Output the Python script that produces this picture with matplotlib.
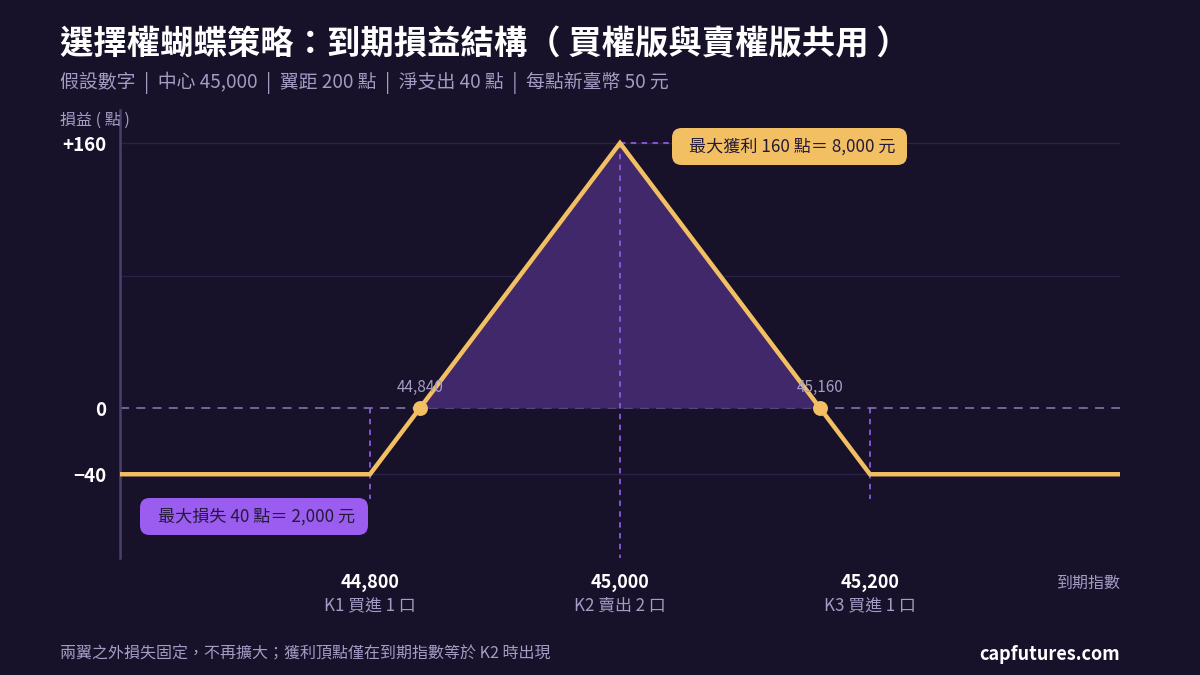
import matplotlib
matplotlib.use("Agg")
import matplotlib.pyplot as plt
from matplotlib.patches import FancyBboxPatch
import numpy as np

plt.rcParams['font.family'] = ['Noto Sans CJK TC', 'DejaVu Sans']

# ---- data ----
index_pts = [44600, 44800, 45000, 45200, 45400]   # expiry index
payoff = [-40, -40, 160, -40, -40]                # P/L in points
strikes = [44800, 45000, 45200]
strike_labels = ["44,800", "45,000", "45,200"]
strike_notes = ["K1 買進 1 口", "K2 賣出 2 口", "K3 買進 1 口"]
breakevens = [44840, 45160]
be_labels = ["44,840", "45,160"]
yticks = [160, 0, -40]
ytick_labels = ["+160", "0", "−40"]

BG = "#17112a"
GOLD = "#f2c062"
PURPLE = "#9b5cf0"
DASH = "#8a5ce0"
GRAY = "#a59cc4"

W, H = 1200, 675
def fx(px): return px / W
def fy(py): return 1 - py / H

fig = plt.figure(figsize=(12, 6.75), dpi=100, facecolor=BG)
ax = fig.add_axes([0.1, 0.1733, 0.8333, 0.6637])
ax.set_facecolor(BG)
ax.set_xlim(44600, 45400)
ax.set_ylim(-90.6, 180)

for s in ["top", "right", "bottom"]:
    ax.spines[s].set_visible(False)
ax.spines["left"].set_color("#4a3f6e")
ax.spines["left"].set_linewidth(1.8)

# grid
for g in [160, 80, -40]:
    ax.axhline(g, color="#2a2248", lw=1, zorder=0)
ax.axhline(0, color="#7a6c9c", lw=1.3, ls=(0, (5, 4)), zorder=1)

# fill positive area
x = np.array(index_pts, dtype=float)
y = np.array(payoff, dtype=float)
xf = np.linspace(x[0], x[-1], 2001)
yf = np.interp(xf, x, y)
ax.fill_between(xf, 0, yf, where=yf > 0, color="#432a6e", alpha=0.95, zorder=1, lw=0)

# dashed verticals
ax.plot([strikes[0]] * 2, [0, -55], color=DASH, lw=1.3, ls=(0, (3, 3)), zorder=2)
ax.plot([strikes[2]] * 2, [0, -55], color=DASH, lw=1.3, ls=(0, (3, 3)), zorder=2)
ax.plot([strikes[1]] * 2, [160, -90.6], color=DASH, lw=1.3, ls=(0, (3, 3)), zorder=2)
ax.plot([strikes[1], strikes[1] + 42], [160, 160], color=DASH, lw=1.3, ls=(0, (3, 3)), zorder=2)

# payoff line
ax.plot(x, y, color=GOLD, lw=3.2, zorder=4, solid_joinstyle="miter")
ax.scatter(breakevens, [0, 0], s=115, color=GOLD, zorder=5, lw=0)
for b, lab in zip(breakevens, be_labels):
    ax.text(b, 7, lab, ha="center", va="bottom", color=GRAY, fontsize=11, zorder=6)

# y ticks
ax.set_yticks(yticks)
ax.set_yticklabels(ytick_labels, color="white", fontsize=13.5, fontweight="bold")
ax.tick_params(axis="y", length=0, pad=10)
ax.set_xticks([])

# annotation boxes (drawn in figure pixels)
def label_box(x0, y0, x1, y1, color, text):
    box = FancyBboxPatch((fx(x0), fy(y1)), fx(x1) - fx(x0), fy(y0) - fy(y1),
                         boxstyle="round,pad=0,rounding_size=0.008",
                         transform=fig.transFigure, fc=color, ec="none", zorder=7,
                         mutation_aspect=W / H)
    fig.patches.append(box)
    fig.text(fx((x0 + x1) / 2 + 3), fy((y0 + y1) / 2), text, ha="center", va="center",
             fontsize=12.3, color="#241a36", zorder=8)

label_box(672, 128, 907, 165, GOLD, "最大獲利 160 點＝ 8,000 元")
label_box(140, 498, 368, 535, PURPLE, "最大損失 40 點＝ 2,000 元")

# x labels
for s, lab, note in zip(strikes, strike_labels, strike_notes):
    px = 120 + (s - 44600) * 1.25
    fig.text(fx(px), fy(583), lab, ha="center", va="center",
             color="white", fontsize=13, fontweight="bold")
    fig.text(fx(px), fy(606), note, ha="center", va="center", color=GRAY, fontsize=12.2)
fig.text(fx(1120), fy(583), "到期指數", ha="right", va="center", color=GRAY, fontsize=11.5)

# titles
fig.text(fx(60), fy(45), "選擇權蝴蝶策略：到期損益結構（ 買權版與賣權版共用 ）",
         ha="left", va="center", color="white", fontsize=24, fontweight="bold")
fig.text(fx(60), fy(83), "假設數字  |  中心 45,000  |  翼距 200 點  |  淨支出 40 點  |  每點新臺幣 50 元",
         ha="left", va="center", color=GRAY, fontsize=13.6)
fig.text(fx(60), fy(120), "損益 ( 點 )", ha="left", va="center", color=GRAY, fontsize=11.5)

# footer
fig.text(fx(60), fy(654), "兩翼之外損失固定，不再擴大；獲利頂點僅在到期指數等於 K2 時出現",
         ha="left", va="center", color=GRAY, fontsize=11.5)
fig.text(fx(1120), fy(654), "capfutures.com", ha="right", va="center",
         color="white", fontsize=13, fontweight="bold")

fig.savefig("out.png", dpi=100, facecolor=BG)
